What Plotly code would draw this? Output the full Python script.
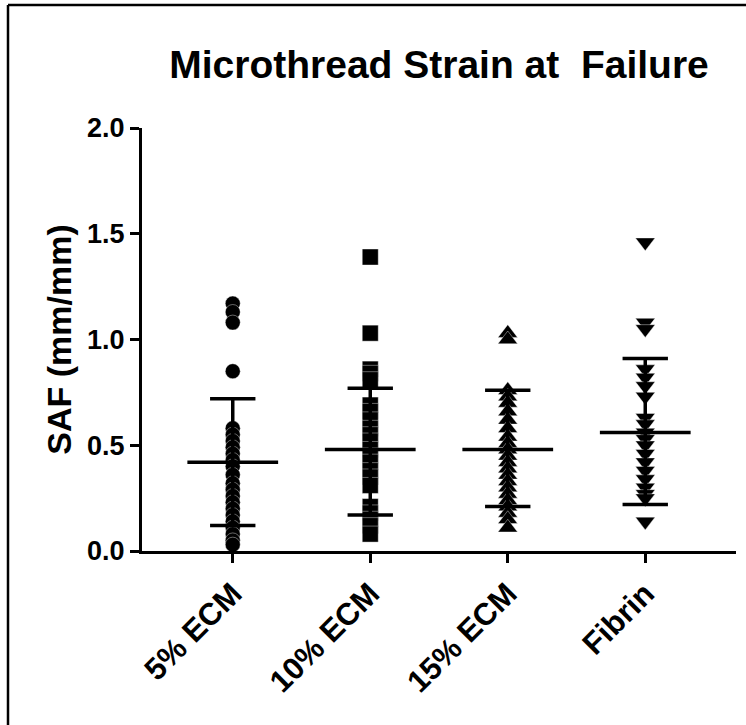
import plotly.graph_objects as go

categories = ["5% ECM", "10% ECM", "15% ECM", "Fibrin"]
ecm5 = [1.17, 1.13, 1.08, 0.85, 0.58, 0.55, 0.52, 0.49, 0.46, 0.43, 0.40, 0.36,
        0.32, 0.29, 0.26, 0.23, 0.20, 0.17, 0.14, 0.11, 0.08, 0.05, 0.03]
ecm10 = [1.39, 1.03, 0.86, 0.84, 0.81, 0.69, 0.66, 0.62, 0.58, 0.55, 0.52, 0.48,
         0.45, 0.42, 0.38, 0.35, 0.31, 0.21, 0.18, 0.15, 0.12, 0.08]
ecm15 = [1.03, 1.00, 0.76, 0.73, 0.70, 0.66, 0.62, 0.58, 0.54, 0.51, 0.48, 0.45,
         0.42, 0.39, 0.36, 0.33, 0.30, 0.27, 0.24, 0.21, 0.18, 0.15, 0.11]
fibrin = [1.46, 1.08, 1.05, 0.86, 0.82, 0.78, 0.73, 0.63, 0.60, 0.56, 0.53, 0.50,
          0.46, 0.42, 0.38, 0.34, 0.30, 0.27, 0.25, 0.14]
means = [0.42, 0.48, 0.48, 0.56]
sd_upper = [0.72, 0.77, 0.76, 0.91]
sd_lower = [0.12, 0.17, 0.21, 0.22]
y_ticks = [0.0, 0.5, 1.0, 1.5, 2.0]
y_ticktext = ["0.0", "0.5", "1.0", "1.5", "2.0"]

groups = [ecm5, ecm10, ecm15, fibrin]
symbols = ["circle", "square", "triangle-up", "triangle-down"]
sizes = [15, 16, 17, 17]

FONT = "Liberation Sans, Arial, sans-serif"
fig = go.Figure()

for i, (vals, sym, sz) in enumerate(zip(groups, symbols, sizes)):
    fig.add_trace(go.Scatter(
        x=[i] * len(vals), y=vals, mode="markers",
        marker=dict(symbol=sym, size=sz, color="black",
                    line=dict(color="white", width=0.4)),
        cliponaxis=False, showlegend=False, hoverinfo="y"))

MW = 0.33   # mean line half width (category units)
CW = 0.165  # SD cap half width
lx, ly = [], []
for i in range(len(categories)):
    m, u, l = means[i], sd_upper[i], sd_lower[i]
    lx += [i - MW, i + MW, None, i - CW, i + CW, None, i - CW, i + CW, None, i, i, None]
    ly += [m, m, None, u, u, None, l, l, None, l, u, None]
fig.add_trace(go.Scatter(x=lx, y=ly, mode="lines",
                         line=dict(color="black", width=3.5),
                         cliponaxis=False, showlegend=False, hoverinfo="skip"))

fig.update_layout(
    width=746, height=725,
    margin=dict(l=142, r=10, t=128, b=174),
    paper_bgcolor="white", plot_bgcolor="white",
    font=dict(family=FONT, color="black"),
    title=dict(text="<b>Microthread Strain at  Failure</b>",
               font=dict(size=39, family=FONT, color="black"),
               x=0.5, xref="paper", xanchor="center",
               y=1 - 64 / 725, yref="container", yanchor="middle"),
    xaxis=dict(range=[-0.66, 3.66], tickmode="array",
               tickvals=list(range(len(categories))),
               ticktext=["<b>%s</b>" % c for c in categories],
               tickangle=-45, ticks="outside", ticklen=9, tickwidth=3,
               tickcolor="black", showline=True, linecolor="black",
               linewidth=3, showgrid=False, zeroline=False,
               tickfont=dict(size=31, family=FONT, color="black")),
    yaxis=dict(range=[0, 2], tickmode="array", tickvals=y_ticks,
               ticktext=["<b>%s</b>" % t for t in y_ticktext],
               ticks="outside", ticklen=9, tickwidth=3, tickcolor="black",
               showline=True, linecolor="black", linewidth=3,
               showgrid=False, zeroline=False,
               tickfont=dict(size=27, family=FONT, color="black"),
               title=dict(text="<b>SAF (mm/mm)</b>",
                          font=dict(size=34, family=FONT, color="black"),
                          standoff=6)),
)

# page frame (top and left edges visible in the reference)
fig.add_shape(type="line", xref="paper", yref="paper",
              x0=(8 - 142) / 594, x1=(760 - 142) / 594,
              y0=(551 - 5) / 423, y1=(551 - 5) / 423,
              line=dict(color="black", width=2.5))
fig.add_shape(type="line", xref="paper", yref="paper",
              x0=(8 - 142) / 594, x1=(8 - 142) / 594,
              y0=(551 - 5) / 423, y1=(551 - 740) / 423,
              line=dict(color="black", width=2.5))

fig.write_html("out.html")
